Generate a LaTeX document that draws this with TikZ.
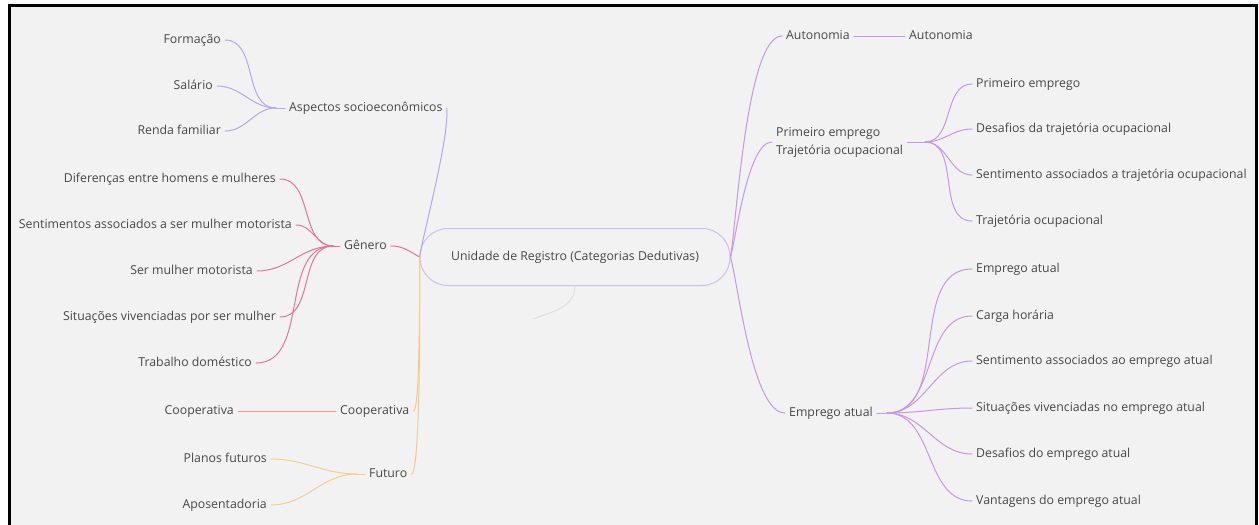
\documentclass[tikz,border=0pt]{standalone}
\usepackage{fontspec}
\setmainfont{Open Sans}
\usepackage{tikz}
\usetikzlibrary{positioning}
\definecolor{bgcol}{HTML}{F2F2F2}
\definecolor{txtcol}{HTML}{474747}
\definecolor{lavcol}{HTML}{B6A6EA}
\definecolor{pinkcol}{HTML}{E3739C}
\definecolor{orgcol}{HTML}{F6C88A}
\definecolor{salcol}{HTML}{EC9C88}
\definecolor{yelcol}{HTML}{F5CE8C}
\definecolor{viocol}{HTML}{C797E6}
\definecolor{boxcol}{HTML}{CCC1EE}
\definecolor{ghostcol}{HTML}{E0DEE8}

\begin{document}
\begin{tikzpicture}[x=1pt,y=1pt,
    every node/.style={text=txtcol,font=\fontsize{12.3}{18}\selectfont,inner sep=4pt},
    lbl/.style={text height=9pt,text depth=3pt},
    leafL/.style={lbl,anchor=east},
    leafR/.style={lbl,anchor=west},
    lnk/.style={line width=1pt,line cap=round}]

	% frame
	\useasboundingbox (0,0) rectangle (1259,-525);
	\fill[bgcol] (9,-5) rectangle (1256,-525);
	\draw[line width=3pt] (9,-530) -- (9,-5) -- (1256,-5) -- (1256,-530);

	% centre
	\node[draw=boxcol,line width=1pt,rounded corners=28pt,minimum width=310pt,minimum height=57pt] (root) at (575,-257) {Unidade de Registro (Categorias Dedutivas)};
	\coordinate (loose) at (533,-319);
	\draw[lnk,draw=ghostcol] (root.south) to[out=-90,in=20] (loose);

	% left: aspectos
	\node[leafR] (asp) at (285,-108) {Aspectos socioeconômicos};
	\coordinate (jasp) at (276,-108);
	\node[leafL] (form) at (225,-40) {Formação};
	\node[leafL] (sal) at (217,-86) {Salário};
	\node[leafL] (renda) at (225,-131) {Renda familiar};

	\draw[lnk,lavcol] (form.east) to[out=0,in=180] (jasp);
	\draw[lnk,lavcol] (sal.east) to[out=0,in=180] (jasp);
	\draw[lnk,lavcol] (renda.east) to[out=0,in=180] (jasp);
	\draw[lnk,lavcol] (jasp) -- (asp.west);
	\draw[lnk,lavcol] (asp.east) to[out=-85,in=80,looseness=0.5] (root.west);

	% left: genero
	\node[leafR] (gen) at (340,-246) {Gênero};
	\coordinate (jgen) at (333,-246);
	\node[leafL] (dif) at (280,-179) {Diferenças entre homens e mulheres};
	\node[leafL] (sent) at (296,-225) {Sentimentos associados a ser mulher motorista};
	\node[leafL] (ser) at (257,-271) {Ser mulher motorista};
	\node[leafL] (sit) at (280,-317) {Situações vivenciadas por ser mulher};
	\node[leafL] (trab) at (256,-363) {Trabalho doméstico};

	\draw[lnk,pinkcol] (dif.east) to[out=0,in=180] (jgen);
	\draw[lnk,pinkcol] (sent.east) to[out=0,in=180] (jgen);
	\draw[lnk,pinkcol] (ser.east) to[out=0,in=180] (jgen);
	\draw[lnk,pinkcol] (sit.east) to[out=0,in=180] (jgen);
	\draw[lnk,pinkcol] (trab.east) to[out=0,in=180] (jgen);
	\draw[lnk,pinkcol] (jgen) -- (gen.west);
	\draw[lnk,pinkcol] (gen.east) to[out=0,in=150] (root.west);

	% left: cooperativa, futuro
	\node[leafR] (coop) at (336,-411) {Cooperativa};
	\node[leafL] (coopl) at (238,-411) {Cooperativa};
	\node[leafR] (fut) at (365,-474) {Futuro};
	\coordinate (jfut) at (357,-474);
	\node[leafL] (plan) at (271,-459) {Planos futuros};
	\node[leafL] (apos) at (271,-505) {Aposentadoria};

	\draw[lnk,orgcol] (root.west) to[out=-90,in=0,looseness=0.12] (coop.east);
	\draw[lnk,orgcol] (root.west) to[out=-90,in=0,looseness=0.12] (fut.east);
	\draw[lnk,draw=salcol] (coopl.east) -- (coop.west);
	\draw[lnk,yelcol] (plan.east) to[out=0,in=180] (jfut);
	\draw[lnk,yelcol] (apos.east) to[out=0,in=180] (jfut);
	\draw[lnk,yelcol] (jfut) -- (fut.west);

	% right: autonomia
	\node[leafR] (aut) at (782,-36) {Autonomia};
	\node[leafR] (autl) at (905,-36) {Autonomia};
	\draw[lnk,viocol] (root.east) to[out=80,in=180,looseness=0.4] (aut.west);
	\draw[lnk,viocol] (aut.east) -- (autl.west);

	% right: primeiro emprego
	\node[anchor=west,align=left] (pet) at (772,-142) {Primeiro emprego\\Trajetória ocupacional};
	\coordinate (jpet) at (925,-142);
	\node[leafR] (pe1) at (972,-84) {Primeiro emprego};
	\node[leafR] (pe2) at (972,-129) {Desafios da trajetória ocupacional};
	\node[leafR] (pe3) at (972,-175) {Sentimento associados a trajetória ocupacional};
	\node[leafR] (pe4) at (972,-221) {Trajetória ocupacional};

	\draw[lnk,viocol] (root.east) to[out=75,in=180,looseness=0.5] (pet.west);
	\draw[lnk,viocol] (pet.east) -- (jpet);
	\draw[lnk,viocol] (jpet) to[out=0,in=180] (pe1.west);
	\draw[lnk,viocol] (jpet) to[out=0,in=180] (pe2.west);
	\draw[lnk,viocol] (jpet) to[out=0,in=180] (pe3.west);
	\draw[lnk,viocol] (jpet) to[out=0,in=180] (pe4.west);

	% right: emprego atual
	\node[leafR] (emp) at (785,-413) {Emprego atual};
	\coordinate (jemp) at (887,-413);
	\node[leafR] (ea1) at (972,-269) {Emprego atual};
	\node[leafR] (ea2) at (972,-316) {Carga horária};
	\node[leafR] (ea3) at (972,-361) {Sentimento associados ao emprego atual};
	\node[leafR] (ea4) at (972,-408) {Situações vivenciadas no emprego atual};
	\node[leafR] (ea5) at (972,-454) {Desafios do emprego atual};
	\node[leafR] (ea6) at (972,-501) {Vantagens do emprego atual};

	\draw[lnk,viocol] (root.east) to[out=-75,in=180,looseness=0.5] (emp.west);
	\draw[lnk,viocol] (emp.east) -- (jemp);
	\draw[lnk,viocol] (jemp) to[out=0,in=180] (ea1.west);
	\draw[lnk,viocol] (jemp) to[out=0,in=180] (ea2.west);
	\draw[lnk,viocol] (jemp) to[out=0,in=180] (ea3.west);
	\draw[lnk,viocol] (jemp) to[out=0,in=180] (ea4.west);
	\draw[lnk,viocol] (jemp) to[out=0,in=180] (ea5.west);
	\draw[lnk,viocol] (jemp) to[out=0,in=180] (ea6.west);
\end{tikzpicture}
\end{document}
